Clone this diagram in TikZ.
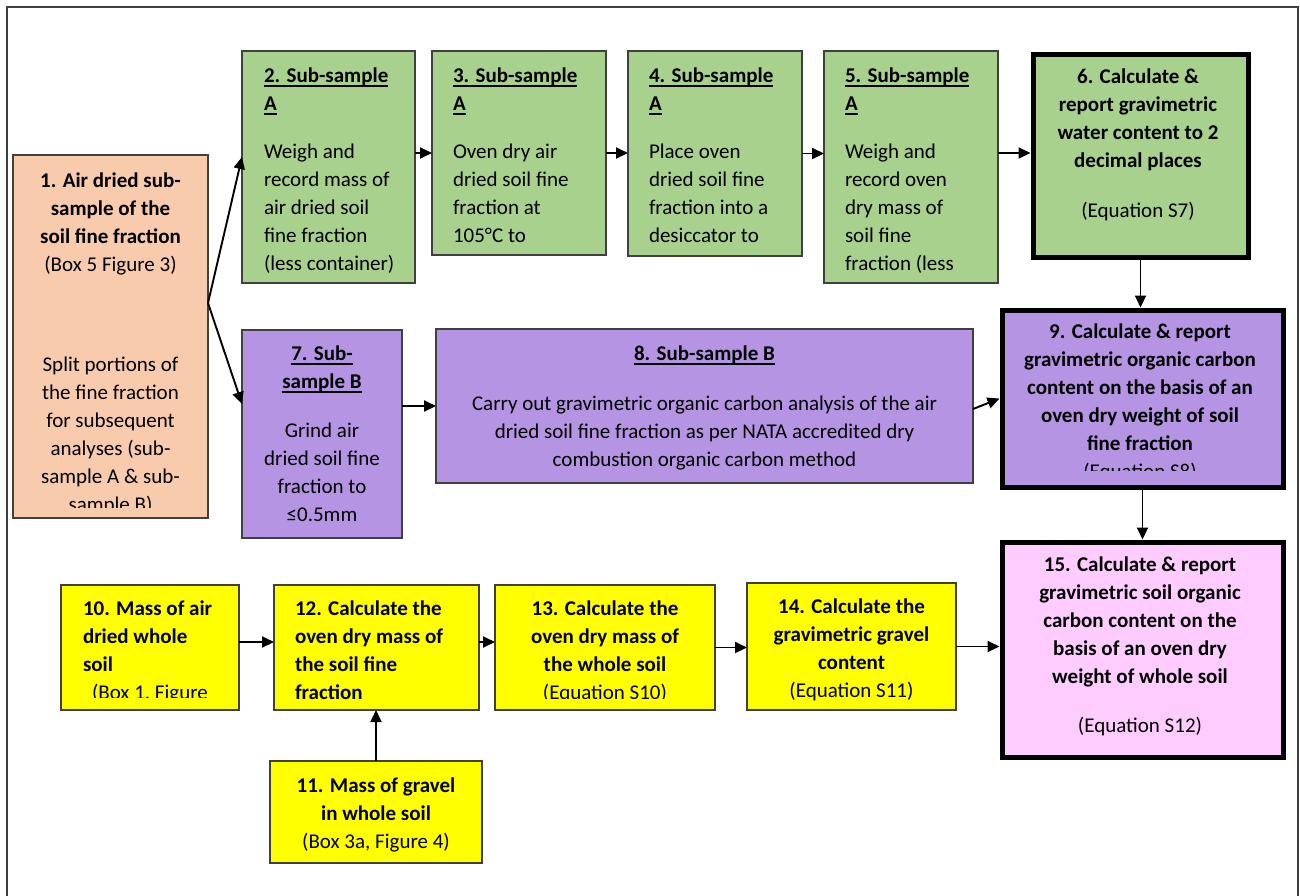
\documentclass[tikz,border=0pt]{standalone}
\usepackage{fontspec}
\setmainfont{Carlito}
\usetikzlibrary{arrows.meta}
\definecolor{gfill}{HTML}{A9D18E}
\definecolor{pfill}{HTML}{F8CBAD}
\definecolor{vfill}{HTML}{B595E3}
\definecolor{yfill}{HTML}{FFFF00}
\definecolor{kfill}{HTML}{FFCCFF}
\definecolor{bord}{HTML}{404040}
\newcommand{\myul}[1]{\setbox0\hbox{#1}\rlap{\rule[-4.5pt]{\wd0}{1.4pt}}\box0}
\begin{document}
\begin{tikzpicture}[x=1pt,y=-1pt,
  bx/.style={draw=bord, line width=1.5pt, inner sep=0pt, outer sep=0pt, anchor=north west},
  thk/.style={draw=black, line width=5pt, inner sep=0pt, outer sep=2.5pt, anchor=north west},
  txt/.style={inner sep=0pt, outer sep=0pt, font=\fontsize{21}{28}\selectfont, text=black},
  arr/.style={line width=1.9pt, draw=black, -{Triangle[length=12pt,width=11pt]}}]
\useasboundingbox (0,0) rectangle (1300,895);
% outer frame
\draw[line width=1.3pt, draw=bord] (7,900) -- (7,7) -- (1298,7) -- (1298,900);

% boxes
\node[bx, fill=pfill, minimum width=195pt, minimum height=363pt] (n1) at (13,155) {};
\node[bx, fill=gfill, minimum width=173pt, minimum height=232pt] (n2) at (242,51) {};
\node[bx, fill=gfill, minimum width=174pt, minimum height=204pt] (n3) at (432,51) {};
\node[bx, fill=gfill, minimum width=174pt, minimum height=205pt] (n4) at (628,51) {};
\node[bx, fill=gfill, minimum width=174pt, minimum height=232pt] (n5) at (824,51) {};
\node[thk, fill=gfill, minimum width=215pt, minimum height=203pt] (n6) at (1030.5,51.5) {};
\node[bx, fill=vfill, minimum width=160pt, minimum height=208pt] (n7) at (242,330) {};
\node[bx, fill=vfill, minimum width=537pt, minimum height=154pt] (n8) at (436,329) {};
\node[thk, fill=vfill, minimum width=281pt, minimum height=177pt] (n9) at (999.5,307.5) {};
\node[bx, fill=yfill, minimum width=178pt, minimum height=125pt] (n10) at (61,585) {};
\node[bx, fill=yfill, minimum width=205pt, minimum height=125pt] (n12) at (274,585) {};
\node[bx, fill=yfill, minimum width=212pt, minimum height=102pt] (n11) at (270,761) {};
\node[bx, fill=yfill, minimum width=220pt, minimum height=125pt] (n13) at (495,585) {};
\node[bx, fill=yfill, minimum width=209pt, minimum height=127pt] (n14) at (747,583) {};
\node[thk, fill=kfill, minimum width=281pt, minimum height=215pt] (n15) at (999.5,539.5) {};

% texts
\begin{scope}
\clip (13,155) rectangle (208,507);
\node[txt, anchor=north, align=center] (t1) at (110.5,167.4) {\strut\textbf{1. Air dried sub-}\\\textbf{sample of the}\\\textbf{soil fine fraction}\\(Box 5 Figure 3)\\[72pt]Split portions of\\the fine fraction\\for subsequent\\analyses (sub-\\sample A \& sub-\\sample B)};
\end{scope}
\begin{scope}
\clip (242,51) rectangle (415,283);
\node[txt, anchor=north west, align=left] (t2) at (264,62.4) {\strut\myul{\textbf{2. Sub-sample}}\\\myul{\textbf{A}}\\[20pt]Weigh and\\record mass of\\air dried soil\\fine fraction\\(less container)};
\end{scope}
\begin{scope}
\clip (432,51) rectangle (606,255);
\node[txt, anchor=north west, align=left] (t3) at (453,62.4) {\strut\myul{\textbf{3. Sub-sample}}\\\myul{\textbf{A}}\\[20pt]Oven dry air\\dried soil fine\\fraction at\\105°C to};
\end{scope}
\begin{scope}
\clip (628,51) rectangle (802,256);
\node[txt, anchor=north west, align=left] (t4) at (649,62.4) {\strut\myul{\textbf{4. Sub-sample}}\\\myul{\textbf{A}}\\[20pt]Place oven\\dried soil fine\\fraction into a\\desiccator to};
\end{scope}
\begin{scope}
\clip (824,51) rectangle (998,283);
\node[txt, anchor=north west, align=left] (t5) at (845,62.4) {\strut\myul{\textbf{5. Sub-sample}}\\\myul{\textbf{A}}\\[20pt]Weigh and\\record oven\\dry mass of\\soil fine\\fraction (less};
\end{scope}
\node[txt, anchor=north, align=center] (t6) at (1138,63.4) {\strut\textbf{6. Calculate \&}\\\textbf{report gravimetric}\\\textbf{water content to 2}\\\textbf{decimal places}\\[22pt](Equation S7)};
\begin{scope}
\clip (997,305) rectangle (1283,470);
\node[txt, anchor=north, align=center] (t9) at (1140,318.4) {\strut\textbf{9. Calculate \& report}\\\textbf{gravimetric organic carbon}\\\textbf{content on the basis of an}\\\textbf{oven dry weight of soil}\\\textbf{fine fraction}\\(Equation S8)};
\end{scope}
\node[txt, anchor=north, align=center] (t7) at (322,340.4) {\strut\myul{\textbf{7. Sub-}}\\\myul{\textbf{sample B}}\\[21pt]Grind air\\dried soil fine\\fraction to\\≤0.5mm};
\node[txt, anchor=north, align=center] (t8) at (704.5,340.4) {\strut\myul{\textbf{8. Sub-sample B}}\\[22pt]Carry out gravimetric organic carbon analysis of the air\\dried soil fine fraction as per NATA accredited dry\\combustion organic carbon method};
\begin{scope}
\clip (61,585) rectangle (239,697);
\node[txt, anchor=north west, align=left] (t10) at (83,595.4) {\strut\textbf{10. Mass of air}\\\textbf{dried whole}\\\textbf{soil}\\\hspace*{9pt}(Box 1, Figure};
\end{scope}
\node[txt, anchor=north west, align=left] (t12) at (295,595.4) {\strut\textbf{12. Calculate the}\\\textbf{oven dry mass of}\\\textbf{the soil fine}\\\textbf{fraction}};
\node[txt, anchor=north, align=center] (t11) at (376,772.4) {\strut\textbf{11. Mass of gravel}\\\textbf{in whole soil}\\(Box 3a, Figure 4)};
\begin{scope}
\clip (495,585) rectangle (715,698);
\node[txt, anchor=north, align=center] (t13) at (605,595.4) {\strut\textbf{13. Calculate the}\\\textbf{oven dry mass of}\\\textbf{the whole soil}\\(Equation S10)};
\end{scope}
\node[txt, anchor=north, align=center] (t14) at (851.5,593.4) {\strut\textbf{14. Calculate the}\\\textbf{gravimetric gravel}\\\textbf{content}\\(Equation S11)};
\node[txt, anchor=north, align=center] (t15) at (1140,551.4) {\strut\textbf{15. Calculate \& report}\\\textbf{gravimetric soil organic}\\\textbf{carbon content on the}\\\textbf{basis of an oven dry}\\\textbf{weight of whole soil}\\[21pt](Equation S12)};

% connectors
\draw[arr] ([yshift=33.5pt]n1.east) -- ([yshift=10pt]n2.west);
\draw[arr] ([yshift=33.5pt]n1.east) -- ([yshift=30pt]n7.west);
\draw[arr] ([yshift=14pt]n2.east) -- ([yshift=14pt]n2.east -| n3.west);
\draw[arr] (n3.east) -- (n3.east -| n4.west);
\draw[arr] (n4.east) -- (n4.east -| n5.west);
\draw[arr] ([yshift=14pt]n5.east) -- ([yshift=14pt]n5.east -| n6.west);
\draw[arr] (n6.south) -- (n6.south |- n9.north);
\draw[arr] ([yshift=28pt]n7.east) -- ([yshift=28pt]n7.east -| n8.west);
\draw[arr] ([yshift=-3pt]n8.east) -- (n9.west);
\draw[arr] (n9.south) -- (n9.south |- n15.north);
\draw[arr] ([yshift=5.5pt]n10.east) -- ([yshift=5.5pt]n10.east -| n12.west);
\draw[arr] (n11.north) -- (n11.north |- n12.south);
\draw[arr] ([yshift=5.5pt]n12.east) -- ([yshift=5.5pt]n12.east -| n13.west);
\draw[arr] (n13.east) -- (n13.east -| n14.west);
\draw[arr] (n14.east) -- (n14.east -| n15.west);
\end{tikzpicture}
\end{document}
